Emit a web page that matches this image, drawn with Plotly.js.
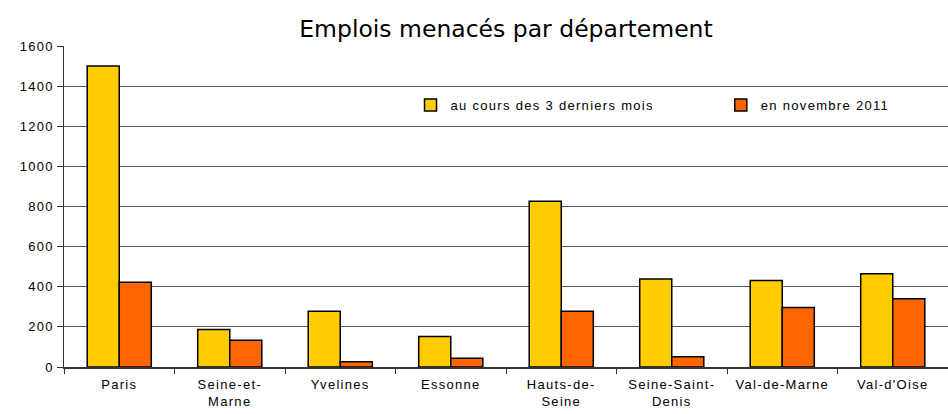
<!DOCTYPE html>
<html>
<head>
<meta charset="utf-8">
<script src="https://cdn.plot.ly/plotly-3.0.1.min.js"></script>
<style>
html,body{margin:0;padding:0;background:#fff;}
#chart{width:948px;height:414px;}
.legendtext, .xtick text, .ytick text, g.legend2 text, g.legend text{letter-spacing:1.3px !important;}
</style>
</head>
<body>
<div id="chart"></div>
<script>
const categories = ["Paris", "Seine-et-<br>Marne", "Yvelines", "Essonne", "Hauts-de-<br>Seine", "Seine-Saint-<br>Denis", "Val-de-Marne", "Val-d'Oise"];
const serie3mois = [1500, 187, 278, 152, 826, 439, 431, 465];
const serieNov2011 = [422, 133, 26, 43, 278, 51, 296, 340];
const seriesNames = ["au cours des 3 derniers mois", "en novembre 2011"];
const yTicks = [0, 200, 400, 600, 800, 1000, 1200, 1400, 1600];

const tickFont = {family: "Liberation Sans, Arial, sans-serif", size: 13, color: "#000"};

const traces = [
  {type: "bar", name: seriesNames[0], x: categories, y: serie3mois, legend: "legend",
   marker: {color: "#FFCC00", line: {color: "#000", width: 1.5}}},
  {type: "bar", name: seriesNames[1], x: categories, y: serieNov2011, legend: "legend2",
   marker: {color: "#FF6600", line: {color: "#000", width: 1.5}}}
];

const legendCommon = {orientation: "h", xanchor: "left", y: 0.816, yanchor: "middle",
  font: tickFont, itemwidth: 30, bgcolor: "rgba(0,0,0,0)"};

const layout = {
  width: 948, height: 414,
  margin: {l: 64, r: 0, t: 46, b: 47, pad: 0},
  paper_bgcolor: "#fff", plot_bgcolor: "#fff",
  title: {text: "Emplois menacés par département", font: {family: "DejaVu Sans, sans-serif", size: 23.5, color: "#000"},
          xref: "paper", x: 0.5, xanchor: "center", yref: "container", y: 0.931, yanchor: "middle"},
  barmode: "group", bargap: 0.42, bargroupgap: 0,
  showlegend: true,
  legend: Object.assign({x: 0.392}, legendCommon),
  legend2: Object.assign({x: 0.743, entrywidth: 150, entrywidthmode: "pixels"}, legendCommon),
  xaxis: {type: "category", showline: true, linecolor: "#333", linewidth: 1.5, mirror: false,
          ticks: "outside", tickson: "boundaries", ticklen: 5, tickcolor: "#333", tickangle: 0,
          ticklabelstandoff: 5,
          tickfont: tickFont, showgrid: false, fixedrange: true, automargin: false},
  yaxis: {range: [0, 1600], tickvals: yTicks, ticktext: yTicks.map(String),
          showline: true, linecolor: "#333", linewidth: 1.5,
          ticks: "outside", ticklen: 6, tickcolor: "#333",
          showgrid: true, gridcolor: "#555", gridwidth: 1, zeroline: false,
          tickfont: tickFont, fixedrange: true, automargin: false}
};

Plotly.newPlot("chart", traces, layout, {displayModeBar: false, staticPlot: true});
</script>
</body>
</html>
